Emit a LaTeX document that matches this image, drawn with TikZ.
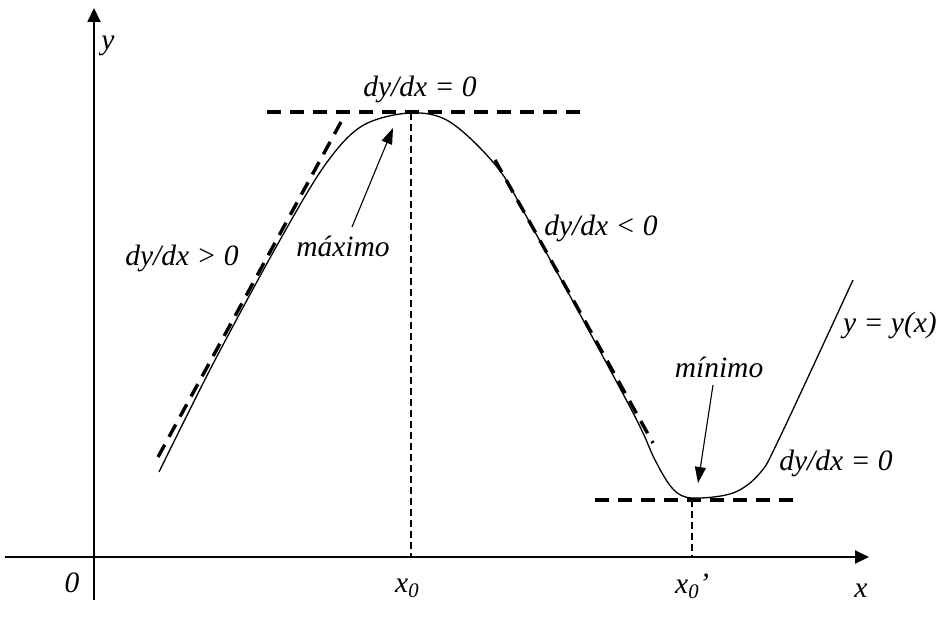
\documentclass[tikz,border=0pt]{standalone}
\usepackage{fontspec}
\setmainfont{Liberation Serif}
\usetikzlibrary{arrows.meta}
\begin{document}
\begin{tikzpicture}[x=1pt,y=-1pt,
  lbl/.style={font=\fontsize{29.5}{32}\selectfont\itshape, inner sep=0pt},
  axisline/.style={line width=2pt, -{Triangle[length=14pt,width=13pt]}},
  curveline/.style={line width=1.3pt, line join=round},
  tangent/.style={line width=3.4pt, dash pattern=on 14pt off 9pt},
  guide/.style={line width=1.2pt, dash pattern=on 7pt off 4pt},
  pointer/.style={line width=1.1pt, -{Triangle[length=16pt,width=11pt]}}]
\useasboundingbox (0,0) rectangle (942,618);

% axes
\coordinate (xs) at (5,557);
\coordinate (xe) at (869,557);
\coordinate (ys) at (94,600);
\coordinate (ye) at (94,8);
\draw[axisline] (xs) -- (xe);
\draw[axisline] (ys) -- (ye);

% curve
\draw[curveline] plot[smooth, tension=0.55] coordinates {
 (159,472) (214,362) (280,240) (325,165) (362,126) (410,113)
 (450,122) (497,167) (530,223) (630,407) (655,460) (673,489)
 (692,498) (733,493) (760,473) (780,437) (853,280)};

% tangents
\coordinate (lt1) at (158,457);
\coordinate (lt2) at (341,122);
\coordinate (tt1) at (267,112);
\coordinate (tt2) at (583,112);
\coordinate (rt1) at (495,160);
\coordinate (rt2) at (653,443);
\coordinate (bt1) at (595,500);
\coordinate (bt2) at (793,500);
\draw[tangent] (lt1) -- (lt2);
\draw[tangent] (tt1) -- (tt2);
\draw[tangent] (rt1) -- (rt2);
\draw[tangent] (bt1) -- (bt2);

% guides
\coordinate (max) at (411,113);
\coordinate (maxfoot) at (411,557);
\coordinate (min) at (692,500);
\coordinate (minfoot) at (692,557);
\draw[guide] (max) -- (maxfoot);
\draw[guide] (min) -- (minfoot);

% pointers
\coordinate (pa1) at (352,227);
\coordinate (pa2) at (393,128);
\coordinate (pb1) at (713,385);
\coordinate (pb2) at (698,483);
\draw[pointer] (pa1) -- (pa2);
\draw[pointer] (pb1) -- (pb2);

% labels
\node[lbl, anchor=base] (ylab) at (108,49) {y};
\node[lbl, anchor=base] (d0top) at (420,96) {dy/dx = 0};
\node[lbl, anchor=base] (maxl) at (343,256) {máximo};
\node[lbl, anchor=base] (dpos) at (182,265) {dy/dx > 0};
\node[lbl, anchor=base] (dneg) at (601,235) {dy/dx < 0};
\node[lbl, anchor=base] (minl) at (719,377) {mínimo};
\node[lbl, anchor=base] (d0bot) at (836,470) {dy/dx = 0};
\node[lbl, anchor=base] (yfun) at (890,332) {y = y(x)};
\node[lbl, anchor=base] (zero) at (72,592) {0};
\node[lbl, anchor=base west] (x0) at (395,592) {x\textsubscript{0}};
\node[lbl, anchor=base west] (x0p) at (675,593) {x\textsubscript{0}’};
\node[lbl, anchor=base] (xlab) at (861,597) {x};
\end{tikzpicture}
\end{document}
